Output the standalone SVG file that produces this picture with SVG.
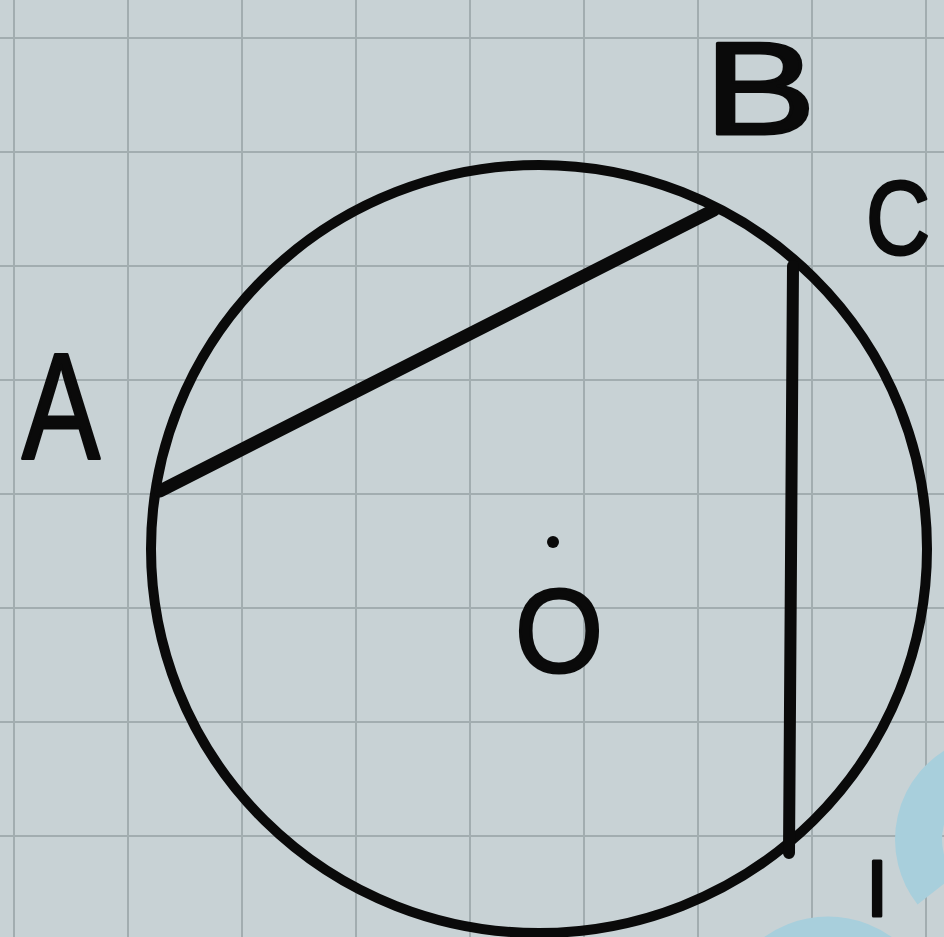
<svg xmlns="http://www.w3.org/2000/svg" width="944" height="937" viewBox="0 0 944 937">
  <style>
    .grid { stroke: #a2adb0; stroke-width: 2; fill: none; }
    .ink { stroke: #0a0a0a; fill: none; stroke-linecap: round; stroke-linejoin: round; }
    .lbl { font-family: "Liberation Sans", Arial, sans-serif; fill: #0a0a0a; stroke: #0a0a0a; stroke-width: 3; stroke-linejoin: round; }
    .blue { stroke: #a8cfdc; fill: none; }
  </style>
  <rect x="0" y="0" width="944" height="937" fill="#c8d2d5"/>
  <g id="grid" class="grid">
    <path d="M14 0V937M128 0V937M242 0V937M356 0V937M470 0V937M584 0V937M698 0V937M812 0V937M926 0V937"/>
    <path d="M0 38H944M0 152H944M0 266H944M0 380H944M0 494H944M0 608H944M0 722H944M0 836H944"/>
  </g>
  <g id="watermark">
    <path class="blue" stroke-width="47" d="M 965 766 A 81.5 81.5 0 0 0 936 890"/>
    <circle class="blue" cx="828" cy="1026" r="86" stroke-width="47"/>
  </g>
  <g id="circle-O">
    <ellipse class="ink" cx="539" cy="549" rx="388" ry="384" stroke-width="10"/>
  </g>
  <g id="connectors">
    <line id="chord-AB" class="ink" x1="160" y1="491" x2="714" y2="210" stroke-width="13"/>
    <line id="chord-CD" class="ink" x1="793" y1="266" x2="789" y2="853" stroke-width="12"/>
  </g>
  <g id="center-O">
    <circle cx="553" cy="542" r="6" fill="#0a0a0a"/>
    <text class="lbl" x="515" y="672" font-size="118" textLength="88" lengthAdjust="spacingAndGlyphs">O</text>
  </g>
  <g id="label-A">
    <text class="lbl" x="22" y="458" font-size="150" textLength="78" lengthAdjust="spacingAndGlyphs">A</text>
  </g>
  <g id="label-B">
    <text class="lbl" x="704" y="134" font-size="132" textLength="112" lengthAdjust="spacingAndGlyphs">B</text>
  </g>
  <g id="label-C">
    <text class="lbl" x="866" y="254" font-size="104" textLength="64" lengthAdjust="spacingAndGlyphs">C</text>
  </g>
  <g id="label-D">
    <text class="lbl" x="866" y="916" font-size="80">I</text>
  </g>
</svg>
